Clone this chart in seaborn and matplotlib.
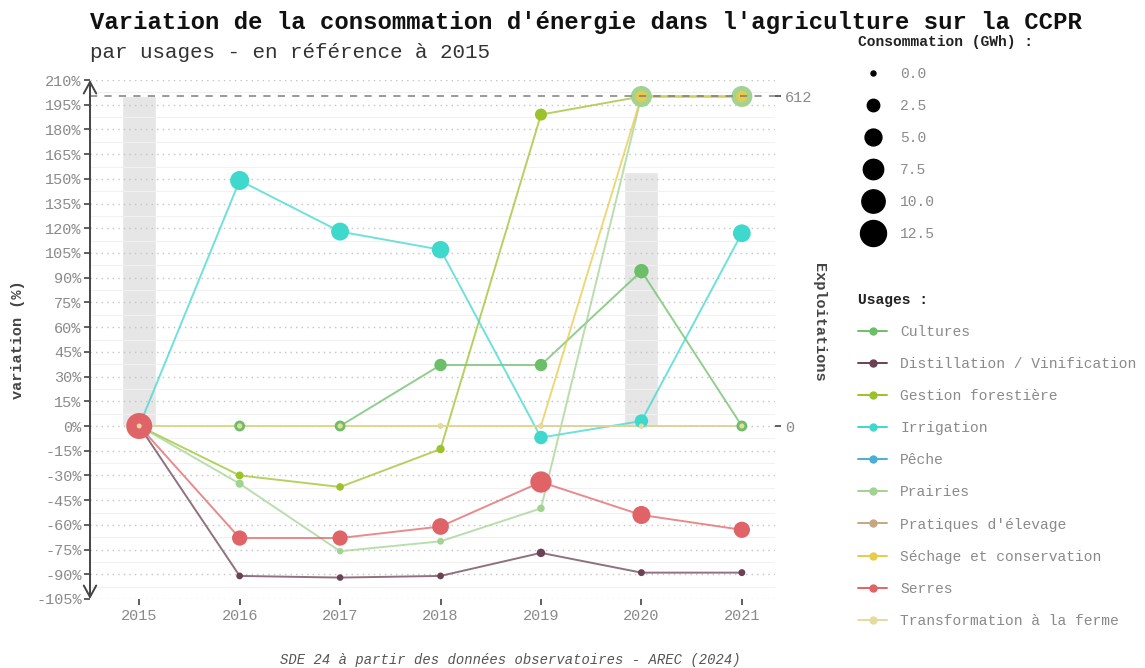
import numpy as np
import pandas as pd
import matplotlib
matplotlib.use("Agg")
import matplotlib.pyplot as plt
from matplotlib.lines import Line2D
import seaborn as sns

# ---- data ----
years = [2015, 2016, 2017, 2018, 2019, 2020, 2021]

usages = ["Cultures", "Distillation / Vinification", "Gestion forestière",
          "Irrigation", "Pêche", "Prairies", "Pratiques d'élevage",
          "Séchage et conservation", "Serres", "Transformation à la ferme"]
colors = ["#6cbf68", "#6b4254", "#9cc22a", "#3fd8cd", "#4aaed8",
          "#a2d392", "#c4a882", "#e5cc4c", "#e06467", "#e3dda2"]

# variation vs 2015 (%)
var_cultures = [0, 0, 0, 37, 37, 94, 0]
var_distillation = [0, -91, -92, -91, -77, -89, -89]
var_gestion = [0, -30, -37, -14, 189, 200, 200]
var_irrigation = [0, 149, 118, 107, -7, 3, 117]
var_peche = [np.nan, np.nan, np.nan, np.nan, np.nan, np.nan, np.nan]
var_prairies = [0, -35, -76, -70, -50, 200, 200]
var_pratiques = [0, 0, 0, 0, 0, 0, 0]
var_sechage = [0, 0, 0, 0, 0, 200, 200]
var_serres = [0, -68, -68, -61, -34, -54, -63]
var_transfo = [0, 0, 0, 0, 0, 0, 0]

# consumption (GWh)
gwh_cultures = [1.8, 1.8, 1.8, 2.5, 2.5, 3.5, 1.8]
gwh_distillation = [4.0, 0.4, 0.35, 0.4, 0.9, 0.45, 0.45]
gwh_gestion = [1.0, 0.7, 0.63, 0.86, 2.3, 2.4, 2.4]
gwh_irrigation = [2.6, 6.5, 5.7, 5.4, 3.0, 3.0, 5.6]
gwh_peche = [np.nan, np.nan, np.nan, np.nan, np.nan, np.nan, np.nan]
gwh_prairies = [1.2, 0.8, 0.3, 0.4, 0.6, 8.0, 8.0]
gwh_pratiques = [0, 0, 0, 0, 0, 0, 0]
gwh_sechage = [0, 0, 0, 0, 0, 2.0, 2.0]
gwh_serres = [12.5, 4.0, 4.0, 4.9, 8.25, 5.75, 4.6]
gwh_transfo = [0, 0, 0, 0, 0, 0, 0]

# number of farms (census years)
exploit_years = [2015, 2020]
exploitations = [612, 472]

size_legend = [0.0, 2.5, 5.0, 7.5, 10.0, 12.5]

variations = [var_cultures, var_distillation, var_gestion, var_irrigation, var_peche,
              var_prairies, var_pratiques, var_sechage, var_serres, var_transfo]
consos = [gwh_cultures, gwh_distillation, gwh_gestion, gwh_irrigation, gwh_peche,
          gwh_prairies, gwh_pratiques, gwh_sechage, gwh_serres, gwh_transfo]

rows = []
for name, var, gwh in zip(usages, variations, consos):
    for y, v, c in zip(years, var, gwh):
        if not np.isnan(v):
            rows.append({"annee": y, "variation": v, "conso": c, "usage": name})
df = pd.DataFrame(rows)
present = [u for u in usages if u in set(df["usage"])]
palette = dict(zip(usages, colors))

# ---- style ----
sns.set_theme(style="white")
plt.rcParams["font.family"] = ["Liberation Mono", "DejaVu Sans Mono"]
dark = "#444444"
grey = "#8a8a8a"

fig = plt.figure(figsize=(11.45, 6.68), dpi=100)
ax = fig.add_axes([90 / 1145, 1 - 599 / 668, (775 - 90) / 1145, (599 - 80) / 668])
ax2 = ax.twinx()

k = 200 / max(exploitations)  # farms -> % scale

# grey bars (farms), behind everything
ax2.bar(exploit_years, exploitations, width=0.34, color="#e6e6e6", zorder=1)
ax2.set_ylim(-105 / k, 210 / k)
ax2.set_yticks([0, max(exploitations)])
ax2.tick_params(axis="y", length=4, width=1.2, color=dark, labelcolor=grey,
                labelsize=11, pad=3)
ax2.set_ylabel("Exploitations", rotation=270, va="center", fontweight="bold",
               color=dark, fontsize=11)
ax2.yaxis.set_label_coords((819 - 90) / 685, (599 - 322) / 519)
for s in ax2.spines.values():
    s.set_visible(False)

ax.set_zorder(ax2.get_zorder() + 1)
ax.patch.set_visible(False)

# lines + points
sns.lineplot(data=df, x="annee", y="variation", hue="usage", hue_order=present,
             palette=palette, estimator=None, linewidth=1.4, alpha=0.75,
             legend=False, ax=ax, zorder=2)
sns.scatterplot(data=df, x="annee", y="variation", hue="usage", hue_order=present,
                palette=palette, size="conso", sizes=(13, 350), size_norm=(0, 12.5),
                linewidth=0, legend=False, ax=ax, zorder=3)

# max farms reference line
ax.axhline(max(exploitations) * k, color="#777777", linestyle=(0, (4, 4)),
           linewidth=1.3, alpha=0.8, zorder=4)

ax.set_xlim(2014.51, 2021.33)
ax.set_ylim(-105, 210)
yt = list(range(-105, 211, 15))
ax.set_yticks(yt)
ax.set_yticklabels([f"{v}%" for v in yt])
ax.set_yticks(np.arange(-97.5, 210, 15), minor=True)
ax.set_xticks(years)
ax.set_xticklabels([str(y) for y in years])
ax.grid(True, which="major", axis="y", color="#c4c4c4", linestyle=(0, (1, 3)), linewidth=1)
ax.grid(True, which="minor", axis="y", color="#f1f1f1", linewidth=0.8)
ax.grid(False, axis="x")
ax.tick_params(axis="y", which="major", length=4, width=1.2, color=dark,
               labelcolor=grey, labelsize=11, pad=2, left=True)
ax.tick_params(axis="y", which="minor", length=0)
ax.tick_params(axis="x", length=4, width=1.2, color=dark, labelcolor=grey,
               labelsize=11, pad=3, bottom=True)
for s in ax.spines.values():
    s.set_visible(False)
ax.set_xlabel("")
ax.set_ylabel("variation (%)", fontweight="bold", color=dark, fontsize=11, labelpad=8)

# y axis with arrows at both ends
ax.annotate("", xy=(0, 1), xytext=(0, 0), xycoords="axes fraction",
            arrowprops=dict(arrowstyle="<->,head_length=0.55,head_width=0.3",
                            color=dark, lw=1.4, mutation_scale=15,
                            shrinkA=0, shrinkB=0), zorder=6)

# titles
fig.text(90 / 1145, 1 - 22 / 668, "Variation de la consommation d'énergie dans l'agriculture sur la CCPR",
         fontsize=17.2, fontweight="bold", color="#111111", va="center", ha="left")
fig.text(90 / 1145, 1 - 52 / 668, "par usages - en référence à 2015",
         fontsize=15, color="#333333", va="center", ha="left")
fig.text(510 / 1145, 1 - 660 / 668, "SDE 24 à partir des données observatoires - AREC (2024)",
         fontsize=10, style="italic", color="#555555", va="center", ha="center")

# size legend
size_handles = [Line2D([], [], marker="o", linestyle="", color="black",
                       markersize=np.sqrt(13 + v / 12.5 * (350 - 13)))
                for v in size_legend]
leg1 = fig.legend(size_handles, [f"{v:.1f}" for v in size_legend],
                  title="Consommation (GWh) :", loc="upper left",
                  bbox_to_anchor=(858 / 1145, 1 - 35 / 668), frameon=False,
                  borderpad=0, borderaxespad=0, labelspacing=1.24,
                  handlelength=2.0, handletextpad=0.9, alignment="left",
                  prop={"size": 10.5}, title_fontproperties={"size": 10.5, "weight": "bold"})
for t in leg1.get_texts():
    t.set_color(grey)
leg1.get_title().set_color("#222222")

# usage legend
use_handles = [Line2D([], [], marker="o", color=c, markersize=5, linewidth=1.4)
               for c in colors]
leg2 = fig.legend(use_handles, usages, title="Usages :", loc="upper left",
                  bbox_to_anchor=(858 / 1145, 1 - 293 / 668), frameon=False,
                  borderpad=0, borderaxespad=0, labelspacing=1.24,
                  handlelength=2.0, handletextpad=0.9, alignment="left",
                  prop={"size": 10.5}, title_fontproperties={"size": 10.5, "weight": "bold"})
for t in leg2.get_texts():
    t.set_color(grey)
leg2.get_title().set_color("#222222")

fig.savefig("out.png", dpi=100)
